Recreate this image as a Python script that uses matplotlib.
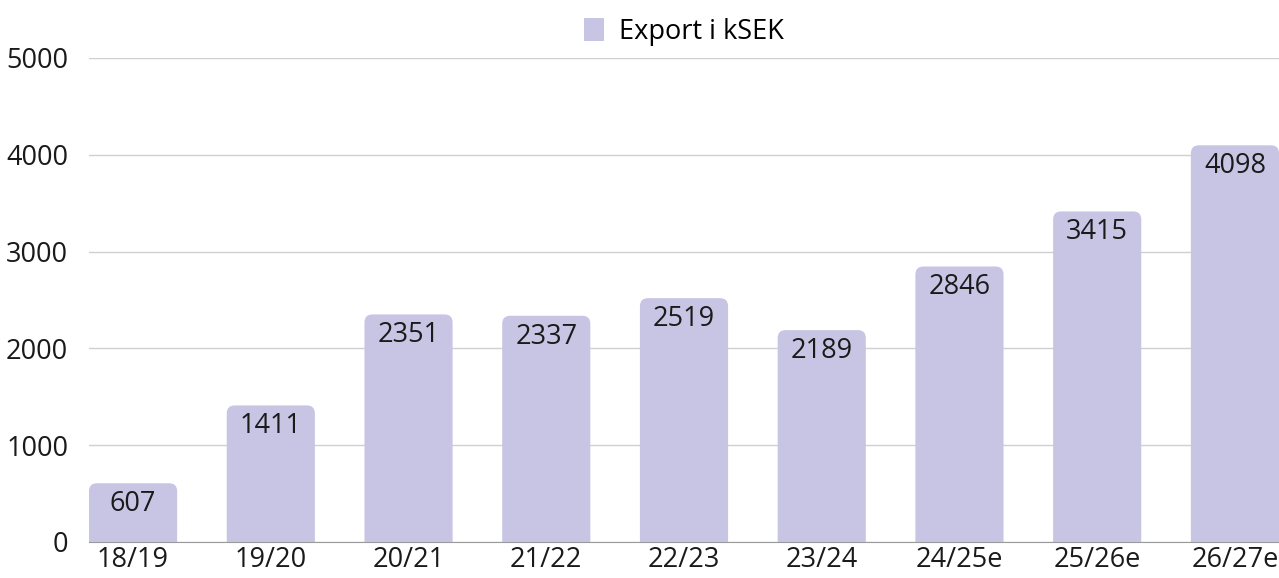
import numpy as np
import matplotlib
matplotlib.use('Agg')
import matplotlib.pyplot as plt
from matplotlib.patches import FancyBboxPatch, Patch

categories = ['18/19', '19/20', '20/21', '21/22', '22/23', '23/24', '24/25e', '25/26e', '26/27e']
export_ksek = [607, 1411, 2351, 2337, 2519, 2189, 2846, 3415, 4098]
y_ticks = [0, 1000, 2000, 3000, 4000, 5000]
series_name = 'Export i kSEK'

bar_color = '#c8c4e4'
plt.rcParams['font.family'] = ['Open Sans', 'DejaVu Sans']
fs = 19.5

W, H = 1279, 578
fig = plt.figure(figsize=(W / 100, H / 100), dpi=100)
ax = fig.add_axes([89 / W, 1 - 542 / H, 1 - 89 / W, (542 - 58) / H])

x = np.arange(len(categories))
width = 0.64
ax.set_xlim(-width / 2, len(categories) - 1 + width / 2)
ax.set_ylim(0, 5000)

# rounded top corners: radius in pixels converted to data units
px_x = (len(categories) - 1 + width) / (W - 89)
px_y = 5000 / (542 - 58)
r_px = 8
aspect = px_y / px_x
for xi, v in zip(x, export_ksek):
    extra = r_px * px_y
    patch = FancyBboxPatch((xi - width / 2, -extra), width, v + extra,
                           boxstyle=f"round,pad=0,rounding_size={r_px * px_x}",
                           mutation_aspect=aspect, facecolor=bar_color,
                           edgecolor='none', zorder=2)
    ax.add_patch(patch)
    ax.annotate(str(v), (xi, v), xytext=(0, -15), textcoords='offset points',
                ha='center', va='center', fontsize=fs, color='#1a1a1a', zorder=3)

ax.set_yticks(y_ticks)
ax.set_xticks(x)
ax.set_xticklabels(categories)
ax.grid(axis='y', color='#d0d0d0', linewidth=1, zorder=0)
ax.tick_params(axis='both', length=0, labelsize=fs, labelcolor='#1a1a1a')
ax.tick_params(axis='y', pad=15)
ax.tick_params(axis='x', pad=3)
for s in ['top', 'right', 'left']:
    ax.spines[s].set_visible(False)
ax.spines['bottom'].set_color('#9a9a9a')
ax.spines['bottom'].set_zorder(4)

handle = Patch(facecolor=bar_color, edgecolor='none')
fig.legend([handle], [series_name], loc='center', bbox_to_anchor=((89 + W) / 2 / W, 1 - 32 / H),
           frameon=False, fontsize=fs, handlelength=0.75, handleheight=0.95, handletextpad=0.55)

fig.savefig('out.png', dpi=100)
